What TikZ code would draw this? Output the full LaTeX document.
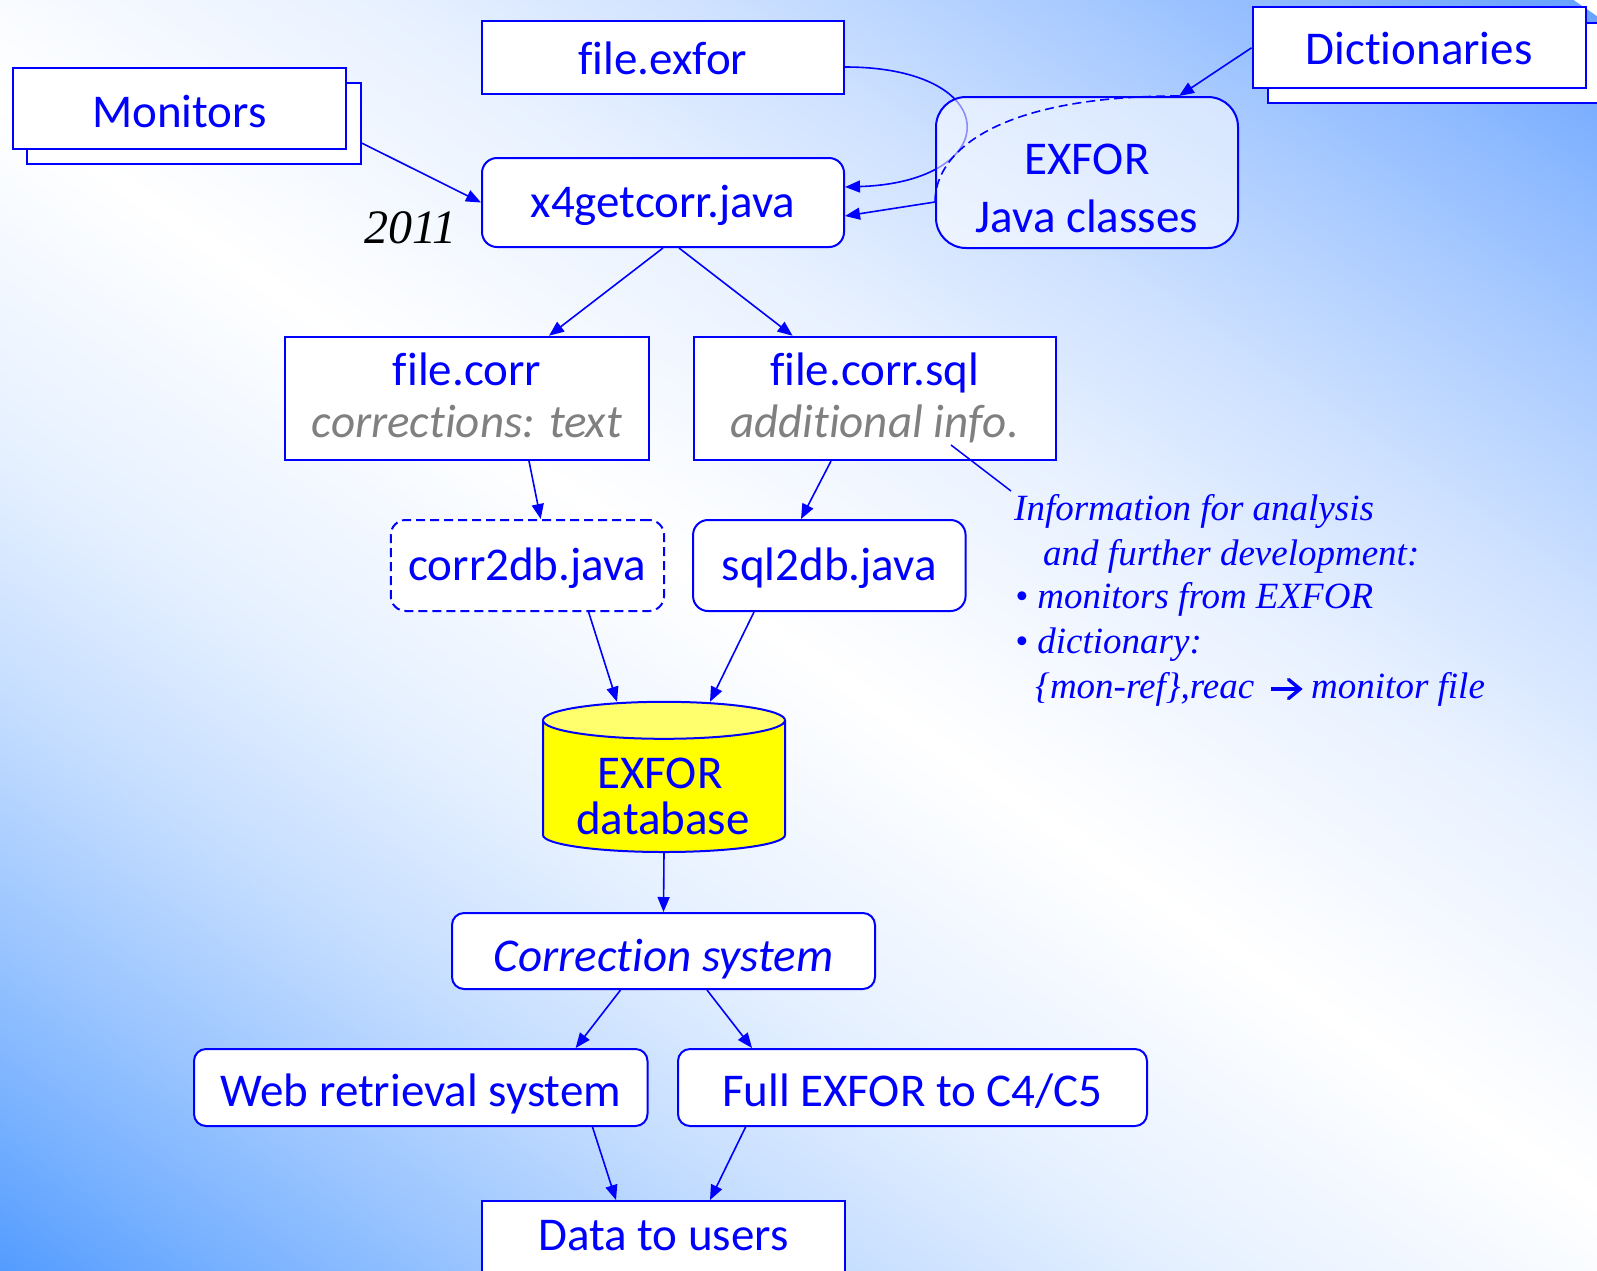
\documentclass[tikz,border=0pt]{standalone}
\usepackage{fontspec}
\setmainfont{Carlito}[Ligatures={NoCommon,NoContextual}]
\newfontfamily\tnr{Liberation Serif}
\usetikzlibrary{arrows.meta,calc}
\definecolor{bb}{RGB}{0,0,255}
\definecolor{bgL}{RGB}{80,154,255}
\definecolor{bgR}{RGB}{104,163,255}
\definecolor{gtx}{RGB}{128,128,128}
\definecolor{dbyel}{RGB}{255,255,0}
\definecolor{dbtop}{RGB}{255,255,110}
\pgfdeclarehorizontalshading{bgsh}{100bp}{color(0bp)=(bgL); color(25bp)=(bgL); color(28.75bp)=(bgL!77!white); color(32.5bp)=(bgL!57!white); color(37.5bp)=(bgL!33!white); color(42.5bp)=(bgL!15!white); color(50bp)=(white); color(57.5bp)=(bgR!15!white); color(62.5bp)=(bgR!33!white); color(67.5bp)=(bgR!57!white); color(71.25bp)=(bgR!77!white); color(75bp)=(bgR); color(100bp)=(bgR)}
\begin{document}
\begin{tikzpicture}[x=1pt,y=-1pt,
  box/.style={draw=bb, line width=2pt, fill=white, inner sep=0pt, text=bb, font=\fontsize{47}{56}\selectfont, text depth=0pt},
  rbox/.style={box, rounded corners=15pt},
  conn/.style={draw=bb, line width=1.6pt, -{Triangle[length=15pt,width=12pt]}},
  lbl/.style={inner sep=0pt, anchor=base, text=bb, font=\fontsize{47}{56}\selectfont},
  glbl/.style={lbl, text=gtx, font=\fontsize{47}{56}\selectfont\itshape},
  ann/.style={inner sep=0pt, anchor=base west, text=bb, font=\tnr\itshape\fontsize{37}{44}\selectfont},
  dsh/.style={dash pattern=on 9pt off 5pt}
]
\useasboundingbox (0,0) rectangle (1597,1270);
\begin{scope}
\clip (0,0) rectangle (1597,1270);
% background gradient
\begin{scope}[transform canvas={rotate around={55.44:(798.5,650)}}]
\shade[shading=bgsh] (-176.5,-850) rectangle (1773.5,2150);
\end{scope}

% stacked boxes
\node[box, minimum width=333.7pt, minimum height=80.7pt] (monb) at (194.2,123.7) {};
\node[box, minimum width=333.3pt, minimum height=80.4pt, text height=38pt] (monf) at (179.4,108.5) {Monitors};
\node[box, minimum width=333pt, minimum height=80pt] (dictb) at (1434.5,63) {};
\node[box, minimum width=333pt, minimum height=81pt, text height=34pt] (dictf) at (1419,47.8) {Dictionaries};

% top boxes
\node[box, minimum width=362pt, minimum height=73pt, text height=33.6pt] (fe) at (663,57.5) {f\kern0pt ile.exfor};
\node[rbox, minimum width=362pt, minimum height=89pt, text height=29pt] (x4) at (663,202.5) {x4getcorr.java};

% curve file.exfor -> x4getcorr (behind the translucent EXFOR box)
\draw[conn] ([yshift=-9.5pt]fe.east) .. controls +(161,0) and +(160,-5) .. ([yshift=15.5pt]x4.east);

% EXFOR Java classes
\node[box, rounded corners=30pt, fill opacity=0.55, minimum width=302pt, minimum height=151pt] (jc) at (1087,172.5) {};
\node[lbl] (jc1) at (1087,174) {EXFOR};
\node[lbl] (jc2) at (1087,232) {Java classes};

\draw[conn] (dictf.west) -- ([xshift=92pt]jc.north);
\draw[draw=bb, line width=1.6pt, dsh] ([xshift=92pt]jc.north) .. controls +(-179,0) and +(0,-52) .. ([yshift=-29.5pt]jc.west);
\draw[conn] ([yshift=-29.5pt]jc.west) -- ([yshift=-13.5pt]x4.east);
\draw[conn] ([yshift=-19.5pt]monb.east) -- (x4.west);

\node[inner sep=0pt, anchor=base west, text=black, font=\tnr\itshape\fontsize{48}{52}\selectfont] (yr) at (364,243) {2011};

% file.corr, file.corr.sql
\node[box, minimum width=363.3pt, minimum height=123.3pt] (fc) at (467,398.4) {};
\node[lbl] (fc1) at (467,385) {f\kern0pt ile.corr};
\node[glbl] (fc2) at (467,437) {correct\kern0pt ions: text};
\node[box, minimum width=362.2pt, minimum height=123.3pt] (fcs) at (874.6,398.4) {};
\node[lbl] (fcs1) at (874.6,385) {f\kern0pt ile.corr.sql};
\node[glbl] (fcs2) at (874.6,437) {addit\kern0pt ional inf\kern0pt o.};

\draw[conn] (x4.south) -- ([xshift=82pt]fc.north);
\draw[conn] ([xshift=16pt]x4.south) -- ([xshift=-82pt]fcs.north);

% java programs
\node[rbox, dsh, minimum width=273.3pt, minimum height=91pt, text height=29pt] (c2db) at (527.4,565.5) {corr2db.java};
\node[rbox, minimum width=272.5pt, minimum height=91pt, text height=29pt] (s2db) at (829.3,565.5) {sql2db.java};
\draw[conn] ([xshift=62pt]fc.south) -- ([xshift=13.3pt]c2db.north);
\draw[conn] ([xshift=-43.6pt]fcs.south) -- ([xshift=-28.3pt]s2db.north);

% annotation
\coordinate (la) at (951,445);
\coordinate (lb) at (1011,491);
\draw[draw=bb, line width=1.5pt] (la) -- (lb);
\node[ann] (ann1) at (1014,520) {Information for analysis};
\node[ann] (ann2) at (1043,565) {and further development:};
\node[ann] (ann3) at (1015,608) {• monitors from EXFOR};
\node[ann] (ann4) at (1015,653) {• dictionary:};
\node[ann] (ann5) at (1035,698) {\{mon-ref\},reac};
\node[ann] (ann6) at (1311,698) {monitor file};
\draw[bb, line width=3.4pt] (1271,689) -- (1299,689);
\draw[bb, line width=3.4pt, line cap=round, line join=miter] (1288.5,679.5) -- (1300,689) -- (1288.5,698.5);

% database cylinder
\fill[dbyel] (543,720) -- (543,835) .. controls (543,844.4) and (597.2,852) .. (664,852) .. controls (730.8,852) and (785,844.4) .. (785,835) -- (785,720) -- cycle;
\draw[bb, line width=2pt] (543,720) -- (543,835) .. controls (543,844.4) and (597.2,852) .. (664,852) .. controls (730.8,852) and (785,844.4) .. (785,835) -- (785,720);
\filldraw[fill=dbtop, draw=bb, line width=2pt] (664,720.3) ellipse [x radius=121, y radius=18.5];
\node[inner sep=0pt, minimum width=242pt, minimum height=150pt] (db) at (664,777) {};
\node[lbl] (db1) at (660,788) {EXFOR};
\node[lbl] (db2) at (663,834) {database};
\draw[conn] ([xshift=61.2pt]c2db.south) -- ([xshift=-47pt]db.north);
\draw[conn] ([xshift=-75.3pt]s2db.south) -- ([xshift=46pt]db.north);

% lower part
\node[box, rounded corners=12pt, minimum width=423pt, minimum height=76pt, text height=40pt, font=\fontsize{47}{56}\selectfont\itshape] (cs) at (663.5,951) {Correct\kern0pt ion system};
\draw[conn] (db.south) -- (cs.north);
\node[box, rounded corners=12pt, minimum width=453.5pt, minimum height=77pt, text height=38pt] (web) at (420.75,1087.5) {Web retrieval system};
\node[box, rounded corners=12pt, minimum width=469pt, minimum height=77pt, text height=38pt] (full) at (912.5,1087.5) {Full EXFOR to C4/C5};
\draw[conn] ([xshift=-43pt]cs.south) -- ([xshift=154.9pt]web.north);
\draw[conn] ([xshift=43.5pt]cs.south) -- ([xshift=-160.5pt]full.north);
\node[box, minimum width=363pt, minimum height=99pt, text height=33pt, text depth=34pt] (data) at (663.5,1250.5) {Data to users};
\draw[conn] ([xshift=171.75pt]web.south) -- ([xshift=-47.5pt]data.north);
\draw[conn] ([xshift=-166.9pt]full.south) -- ([xshift=46.5pt]data.north);
\end{scope}
\end{tikzpicture}
\end{document}
